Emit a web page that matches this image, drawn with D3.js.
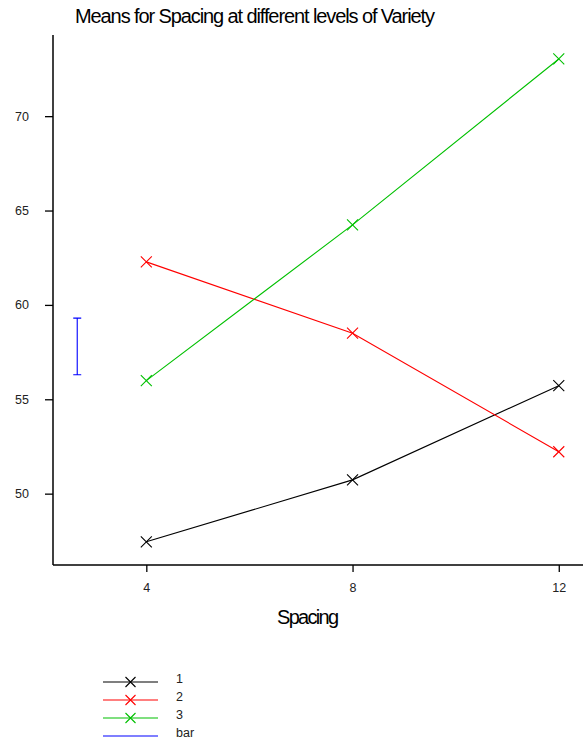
<!DOCTYPE html>
<html>
<head>
<meta charset="utf-8">
<script src="https://cdn.jsdelivr.net/npm/d3@7"></script>
<style>
  body { margin: 0; background: #fff; }
  text { font-family: "Liberation Sans", Arial, sans-serif; }
</style>
</head>
<body>
<script>
const width = 588;
const height = 742;

// data
const spacing = [4, 8, 12];
const seriesNames = ["1", "2", "3"];
const variety1 = [47.45, 50.73, 55.72];
const variety2 = [62.28, 58.5, 52.22];
const variety3 = [55.99, 64.24, 73.03];
const barPos = 2.66;
const barRange = [56.3, 59.3];
const xTicks = [4, 8, 12];
const yTicks = [50, 55, 60, 65, 70];

const colors = ["#000000", "#ff0000", "#00c000"];
const barColor = "#0000ff";

const svg = d3.select("body").append("svg")
  .attr("width", width)
  .attr("height", height);

const x = d3.scaleLinear().domain([2.19, 12.47]).range([53, 583]);
const y = d3.scaleLinear().domain([46.22, 74.3]).range([565, 35]);

svg.append("text")
  .attr("x", 75)
  .attr("y", 23)
  .attr("font-size", "20px")
  .attr("textLength", 360)
  .attr("lengthAdjust", "spacing")
  .attr("fill", "#000")
  .text("Means for Spacing at different levels of Variety");

// axes
const yAxis = svg.append("g")
  .attr("transform", "translate(53,0)")
  .call(d3.axisLeft(y).tickValues(yTicks).tickSize(8).tickPadding(16));
yAxis.select(".domain").attr("d", "M0,35V565").attr("stroke-width", 1.5);

const xAxis = svg.append("g")
  .attr("transform", "translate(0,565)")
  .call(d3.axisBottom(x).tickValues(xTicks).tickSize(7).tickPadding(11));
xAxis.select(".domain").attr("d", "M53,0H583").attr("stroke-width", 1.5);

svg.selectAll(".tick text")
  .attr("font-size", "12.5px")
  .attr("font-family", "Liberation Sans, Arial, sans-serif")
  .attr("fill", "#222");
svg.selectAll(".tick line").attr("stroke-width", 1.3);

svg.append("text")
  .attr("x", 277)
  .attr("y", 624)
  .attr("font-size", "20px")
  .attr("textLength", 62)
  .attr("lengthAdjust", "spacing")
  .text("Spacing");

// lines
const allSeries = [variety1, variety2, variety3];
const line = d3.line()
  .x((d, i) => x(spacing[i]))
  .y((d) => y(d));

function cross(g, cx, cy, r, color) {
  g.append("path")
    .attr("d", `M${cx - r},${cy - r}L${cx + r},${cy + r}M${cx - r},${cy + r}L${cx + r},${cy - r}`)
    .attr("stroke", color)
    .attr("stroke-width", 1.1)
    .attr("fill", "none");
}

allSeries.forEach(function (s, k) {
  svg.append("path")
    .datum(s)
    .attr("d", line)
    .attr("fill", "none")
    .attr("stroke", colors[k])
    .attr("stroke-width", 1.1);
  s.forEach(function (v, i) {
    cross(svg, x(spacing[i]), y(v), 5.5, colors[k]);
  });
});

// error bar
const bx = x(barPos);
svg.append("path")
  .attr("d", `M${bx},${y(barRange[0])}V${y(barRange[1])}M${bx - 4},${y(barRange[0])}H${bx + 4}M${bx - 4},${y(barRange[1])}H${bx + 4}`)
  .attr("stroke", barColor)
  .attr("stroke-width", 1.1)
  .attr("fill", "none");

// legend
const legendNames = seriesNames.concat(["bar"]);
const legendColors = colors.concat([barColor]);
legendNames.forEach(function (name, i) {
  const ly = 682 + i * 18;
  svg.append("line")
    .attr("x1", 103).attr("x2", 158)
    .attr("y1", ly).attr("y2", ly)
    .attr("stroke", legendColors[i])
    .attr("stroke-width", 1.1);
  if (i < 3) cross(svg, 130.5, ly, 5, legendColors[i]);
  svg.append("text")
    .attr("x", 176)
    .attr("y", ly)
    .attr("dy", "0.1em")
    .attr("font-size", "12.5px")
    .attr("fill", "#222")
    .text(name);
});
</script>
</body>
</html>
